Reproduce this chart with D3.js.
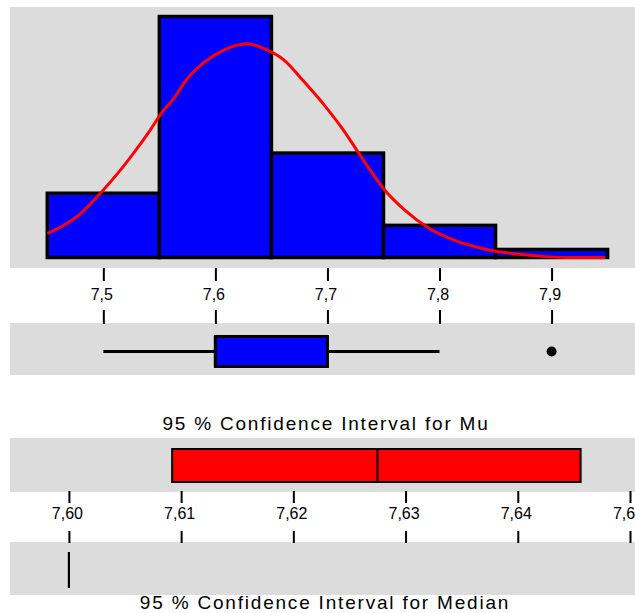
<!DOCTYPE html>
<html>
<head>
<meta charset="utf-8">
<script src="https://cdn.jsdelivr.net/npm/d3@7"></script>
<style>
  html, body { margin: 0; padding: 0; background: #ffffff; }
  svg { display: block; }
  text { font-family: "Liberation Sans", Arial, sans-serif; fill: #000; }
</style>
</head>
<body>
<svg id="chart" width="635" height="613"></svg>
<script>
// ---------- data ----------
const binEdges = [7.45, 7.55, 7.65, 7.75, 7.85, 7.95];
const binCounts = [8, 30, 13, 4, 1];

const curveX = [7.450, 7.462, 7.480, 7.500, 7.513, 7.527, 7.542, 7.552, 7.563, 7.574, 7.589, 7.607, 7.628,
                7.645, 7.661, 7.679, 7.697, 7.715, 7.726, 7.737, 7.751, 7.769, 7.791, 7.816, 7.842, 7.878, 7.914, 7.948];
const curveY = [3.0, 3.8, 5.5, 8.4, 10.5, 13.0, 15.9, 18.0, 19.8, 22.1, 24.2, 25.8, 26.6,
                25.9, 24.6, 21.9, 19.0, 15.7, 13.4, 11.1, 8.4, 5.9, 3.6, 2.0, 1.0, 0.3, 0.0, 0.0];

const histTicks = [7.5, 7.6, 7.7, 7.8, 7.9];

const boxWhiskerLow = 7.50;
const boxQ1 = 7.60;
const boxMedian = 7.60;
const boxQ3 = 7.70;
const boxWhiskerHigh = 7.80;
const boxOutliers = [7.90];

const ciTicks = [7.60, 7.61, 7.62, 7.63, 7.64, 7.65];
const muCI = [7.6092, 7.6456];
const muMean = 7.6275;
const medianCI = [7.60, 7.60];

const titleMu = "95 % Confidence Interval for Mu";
const titleMedian = "95 % Confidence Interval for Median";

// ---------- setup ----------
const svg = d3.select("#chart");
const W = 635;
const grey = "#dcdcdc";
const commaFmt = f => v => d3.format(f)(v).replace(".", ",");

// scales
const x = d3.scaleLinear().domain([7.45, 7.95]).range([47.3, 607.6]);
const y = d3.scaleLinear().domain([0, 31]).range([257.5, 8.5]);
const ci = d3.scaleLinear().domain([7.60, 7.65]).range([68.9, 630]);

// ---------- panels ----------
const panels = [
  {y0: 7, y1: 268},
  {y0: 323, y1: 375},
  {y0: 438, y1: 492},
  {y0: 542, y1: 595}
];
svg.selectAll("rect.panel").data(panels).join("rect")
  .attr("class", "panel")
  .attr("x", 10).attr("y", d => d.y0)
  .attr("width", W - 10).attr("height", d => d.y1 - d.y0)
  .attr("fill", grey);

// ---------- histogram ----------
const bins = binCounts.map((c, i) => ({x0: binEdges[i], x1: binEdges[i + 1], c}));
svg.append("g").selectAll("rect").data(bins).join("rect")
  .attr("x", d => x(d.x0)).attr("width", d => x(d.x1) - x(d.x0))
  .attr("y", d => y(d.c)).attr("height", d => y(0) - y(d.c))
  .attr("fill", "#0000ff").attr("stroke", "#000").attr("stroke-width", 3.5);

const curvePts = curveX.map((v, i) => [v, curveY[i]]);
svg.append("path")
  .datum(curvePts)
  .attr("fill", "none").attr("stroke", "#ff0000").attr("stroke-width", 3)
  .attr("d", d3.line().x(d => x(d[0])).y(d => y(d[1])).curve(d3.curveMonotoneX));

// ---------- histogram axis ----------
const axTop = svg.append("g").attr("transform", "translate(0,268)")
  .call(d3.axisBottom(x).tickValues(histTicks).tickSize(13).tickPadding(7.6).tickFormat(commaFmt(".1f")));
axTop.select(".domain").remove();
axTop.selectAll("line").attr("stroke", "#000").attr("stroke-width", 2);
axTop.selectAll("text").attr("font-size", 16).attr("dx", -2);

const axTop2 = svg.append("g").attr("transform", "translate(0,324)")
  .call(d3.axisTop(x).tickValues(histTicks).tickSize(14).tickFormat(""));
axTop2.select(".domain").remove();
axTop2.selectAll("line").attr("stroke", "#000").attr("stroke-width", 2);

// ---------- boxplot ----------
const by = 351.5, bh = 30;
svg.append("line")
  .attr("x1", x(boxWhiskerLow)).attr("x2", x(boxWhiskerHigh))
  .attr("y1", by).attr("y2", by)
  .attr("stroke", "#000").attr("stroke-width", 3);
svg.append("rect")
  .attr("x", x(boxQ1)).attr("width", x(boxQ3) - x(boxQ1))
  .attr("y", by - bh / 2).attr("height", bh)
  .attr("fill", "#0000ff").attr("stroke", "#000").attr("stroke-width", 3);
svg.append("line")
  .attr("x1", x(boxMedian)).attr("x2", x(boxMedian))
  .attr("y1", by - bh / 2).attr("y2", by + bh / 2)
  .attr("stroke", "#000").attr("stroke-width", 3);
svg.selectAll("circle.out").data(boxOutliers).join("circle")
  .attr("class", "out")
  .attr("cx", d => x(d)).attr("cy", by).attr("r", 5).attr("fill", "#000");

// ---------- Mu CI ----------
svg.append("text").attr("x", 326).attr("y", 430)
  .attr("text-anchor", "middle").attr("font-size", 19).attr("letter-spacing", 1.8)
  .text(titleMu);

svg.append("rect")
  .attr("x", ci(muCI[0])).attr("width", ci(muCI[1]) - ci(muCI[0]))
  .attr("y", 449).attr("height", 33)
  .attr("fill", "#ff0000").attr("stroke", "#000").attr("stroke-width", 2);
svg.append("line")
  .attr("x1", ci(muMean)).attr("x2", ci(muMean))
  .attr("y1", 449).attr("y2", 482)
  .attr("stroke", "#000").attr("stroke-width", 2);

const axCI = svg.append("g").attr("transform", "translate(0,491)")
  .call(d3.axisBottom(ci).tickValues(ciTicks).tickSize(12).tickPadding(4.6).tickFormat(commaFmt(".2f")));
axCI.select(".domain").remove();
axCI.selectAll("line").attr("stroke", "#000").attr("stroke-width", 2);
axCI.selectAll("text").attr("font-size", 16).attr("dx", -2);

const axCI2 = svg.append("g").attr("transform", "translate(0,543)")
  .call(d3.axisTop(ci).tickValues(ciTicks).tickSize(12).tickFormat(""));
axCI2.select(".domain").remove();
axCI2.selectAll("line").attr("stroke", "#000").attr("stroke-width", 2);

// ---------- Median CI ----------
// interval is degenerate (both bounds equal), so it shows as a vertical line
svg.append("rect")
  .attr("x", ci(medianCI[0])).attr("width", Math.max(0, ci(medianCI[1]) - ci(medianCI[0])))
  .attr("y", 552).attr("height", 36)
  .attr("fill", "#ff0000");
svg.selectAll("line.medci").data(medianCI).join("line")
  .attr("class", "medci")
  .attr("x1", d => ci(d)).attr("x2", d => ci(d))
  .attr("y1", 552).attr("y2", 588)
  .attr("stroke", "#000").attr("stroke-width", 2);

svg.append("text").attr("x", 325).attr("y", 609)
  .attr("text-anchor", "middle").attr("font-size", 19).attr("letter-spacing", 1.8)
  .text(titleMedian);
</script>
</body>
</html>
